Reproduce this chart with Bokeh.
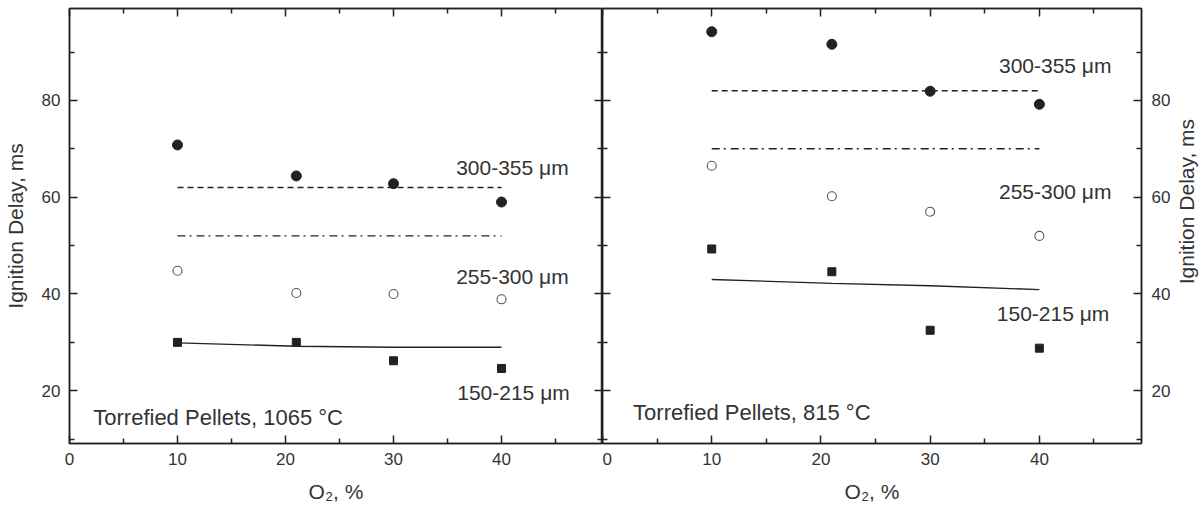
import math

from bokeh.core.properties import value
from bokeh.embed import file_html
from bokeh.layouts import row
from bokeh.models import FixedTicker, LinearAxis, Range1d
from bokeh.plotting import figure
from bokeh.resources import INLINE

# Oxygen concentration, %
o2 = [10, 21, 30, 40]
o2_span = [10, 40]

# Torrefied pellets at 1065 °C: ignition delay, ms
large_1065 = [70.8, 64.4, 62.8, 59.0]
medium_1065 = [44.8, 40.2, 40.0, 38.9]
small_1065 = [30.0, 30.0, 26.2, 24.6]
model_large_1065 = [62.0, 62.0]
model_medium_1065 = [52.0, 52.0]
model_small_1065 = [29.9, 29.2, 29.0, 29.0]

# Torrefied pellets at 815 °C: ignition delay, ms
large_815 = [94.2, 91.6, 81.9, 79.2]
medium_815 = [66.5, 60.2, 57.0, 52.0]
small_815 = [49.3, 44.6, 32.5, 28.8]
model_large_815 = [82.0, 82.0]
model_medium_815 = [70.0, 70.0]
model_small_815 = [43.0, 42.2, 41.7, 40.9]

size_labels = ["300-355 μm", "255-300 μm", "150-215 μm"]
panel_titles = ["Torrefied Pellets, 1065 °C", "Torrefied Pellets, 815 °C"]
x_title = "O₂, %"
y_title = "Ignition Delay, ms"

x_major = [0, 10, 20, 30, 40]
x_minor = [5, 15, 25, 35, 45]
y_major = [20, 40, 60, 80]
y_minor = [10, 30, 50, 70, 90]

X_MIN, X_MAX = 0, 49.35
Y_MIN, Y_MAX = 9.1, 99.0
FRAME_H = 435
TOP, BOTTOM = 8, 65
PAGE_H = TOP + FRAME_H + BOTTOM

FONT = "Liberation Sans"
INK = "#222222"
TEXT = "#333333"


def style_axis(ax, labels=True, horizontal=True):
    ax.ticker = FixedTicker(ticks=x_major if horizontal else y_major,
                            minor_ticks=x_minor if horizontal else y_minor)
    ax.axis_line_color = INK
    ax.axis_line_width = 1.5
    ax.major_tick_line_color = INK
    ax.major_tick_line_width = 1.5
    ax.minor_tick_line_color = INK
    ax.minor_tick_line_width = 1.5
    ax.major_tick_in = 8
    ax.major_tick_out = 0
    ax.minor_tick_in = 5
    ax.minor_tick_out = 0
    ax.major_label_text_font = FONT
    ax.major_label_text_color = TEXT
    ax.axis_label_text_font = FONT
    ax.axis_label_text_color = TEXT
    ax.axis_label_text_font_style = "normal"
    ax.axis_label_text_font_size = "21px"
    if labels:
        ax.major_label_text_font_size = "17px"
        ax.major_label_standoff = 9
    else:
        # tick marks only on the top and shared sides
        ax.major_label_text_font_size = "1px"
        ax.major_label_text_color = None
        ax.major_label_standoff = 0


def make_panel(large, medium, small, m_large, m_medium, m_small,
               label_pos, title_pos, title, side):
    left_border = 68 if side == "left" else 0
    right_border = 30 if side == "right" else 0
    fw = 533 if side == "left" else 539
    p = figure(frame_width=fw, frame_height=FRAME_H,
               x_range=Range1d(X_MIN, X_MAX), y_range=Range1d(Y_MIN, Y_MAX),
               output_backend="svg", toolbar_location=None,
               x_axis_location=None, y_axis_location=None,
               min_border_left=left_border, min_border_right=right_border,
               min_border_top=TOP, min_border_bottom=BOTTOM)
    p.background_fill_color = "white"
    p.border_fill_color = "white"
    p.outline_line_color = INK
    p.outline_line_width = 1.5
    p.xgrid.visible = False
    p.ygrid.visible = False

    bottom = LinearAxis(axis_label=x_title)
    style_axis(bottom, labels=True, horizontal=True)
    bottom.axis_label_standoff = 12
    top = LinearAxis()
    style_axis(top, labels=False, horizontal=True)
    p.add_layout(bottom, "below")
    p.add_layout(top, "above")

    inner = LinearAxis()
    style_axis(inner, labels=False, horizontal=False)
    if side == "left":
        outer = LinearAxis(axis_label=y_title)
        style_axis(outer, labels=True, horizontal=False)
        outer.axis_label_standoff = 12
        p.add_layout(outer, "left")
        p.add_layout(inner, "right")
    else:
        outer = LinearAxis()
        style_axis(outer, labels=True, horizontal=False)
        outer.major_label_standoff = 10
        p.add_layout(outer, "right")
        p.add_layout(inner, "left")

    # model curves
    p.line(o2_span, m_large, line_color=INK, line_width=1.4, line_dash="6 4")
    p.line(o2_span, m_medium, line_color=INK, line_width=1.4, line_dash="8 4 2 5")
    p.line(o2, m_small, line_color=INK, line_width=1.4)

    # measurements
    p.scatter(o2, large, marker="circle", size=10, fill_color=INK, line_color=INK)
    p.scatter(o2, medium, marker="circle", size=9, fill_color="white",
              line_color="#555555", line_width=1.1)
    p.scatter(o2, small, marker="square", size=8, fill_color=INK, line_color=INK)

    p.text(x=[pos[0] for pos in label_pos], y=[pos[1] for pos in label_pos],
           text=size_labels, text_font=value(FONT), text_font_size="21px",
           text_color=TEXT, text_align="left", text_baseline="middle")
    p.text(x=[title_pos[0]], y=[title_pos[1]], text=[title],
           text_font=value(FONT), text_font_size="22px", text_color=TEXT,
           text_align="left", text_baseline="middle")
    return p


left = make_panel(large_1065, medium_1065, small_1065,
                  model_large_1065, model_medium_1065, model_small_1065,
                  [(35.8, 66.2), (35.8, 43.6), (35.9, 19.6)], (2.2, 14.4),
                  panel_titles[0], "left")
right = make_panel(large_815, medium_815, small_815,
                   model_large_815, model_medium_815, model_small_815,
                   [(36.3, 87.2), (36.3, 61.1), (36.1, 36.0)], (2.8, 15.5),
                   panel_titles[1], "right")

# narrow strip carrying the right-hand axis title, read bottom to top
strip_w = 34
strip = figure(width=strip_w, height=PAGE_H, x_range=Range1d(0, strip_w),
               y_range=Range1d(0, PAGE_H), output_backend="svg",
               toolbar_location=None, x_axis_location=None,
               y_axis_location=None, min_border=0)
strip.outline_line_color = None
strip.xgrid.visible = False
strip.ygrid.visible = False
strip.text(x=[13], y=[BOTTOM + FRAME_H / 2], text=[y_title], angle=math.pi / 2,
           text_font=value(FONT), text_font_size="21px", text_color=TEXT,
           text_align="center", text_baseline="middle")

layout = row(left, right, strip)
open("out.html", "w").write(file_html(layout, INLINE))
